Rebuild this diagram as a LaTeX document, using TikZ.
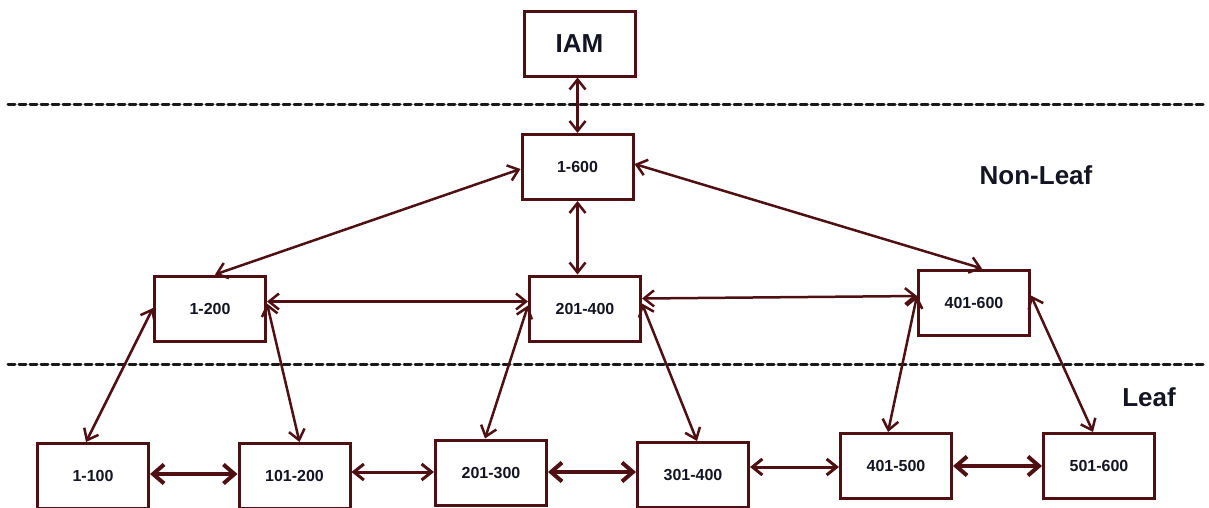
\documentclass[tikz,border=0pt]{standalone}
\usepackage{fontspec}
\setmainfont{Liberation Sans}
\usetikzlibrary{arrows.meta}
\definecolor{mar}{RGB}{78,16,18}
\definecolor{txt}{RGB}{20,20,35}
\begin{document}
\begin{tikzpicture}[x=1pt,y=-1pt,
  box/.style={draw=mar,line width=3pt,fill=white,minimum width=111pt,minimum height=65pt,inner sep=0pt,
    text=txt,font=\fontsize{16}{18}\selectfont\bfseries},
  big/.style={text=txt,font=\fontsize{26}{30}\selectfont\bfseries,inner sep=0pt},
  link/.style={draw=mar,line width=2.5pt,{Straight Barb[length=10pt,width=16pt]}-{Straight Barb[length=10pt,width=16pt]}},
  thick link/.style={draw=mar,line width=4pt,{Straight Barb[length=11pt,width=19pt]}-{Straight Barb[length=11pt,width=19pt]}},
  mid link/.style={draw=mar,line width=3pt,{Straight Barb[length=10pt,width=16pt]}-{Straight Barb[length=10pt,width=16pt]}},
  level/.style={draw=black!90,line width=3pt,dash pattern=on 7pt off 4pt,line cap=round}]
\useasboundingbox (0,0) rectangle (1209,507);
% level separators
\coordinate (d1a) at (8,104);
\coordinate (d1b) at (1206,104);
\coordinate (d2a) at (8,364);
\coordinate (d2b) at (1206,364);
\draw[level] (d1a) -- (d1b);
\draw[level] (d2a) -- (d2b);
% nodes
\node[box,font=\fontsize{26}{30}\selectfont\bfseries] (iam) at (579.5,43.5) {IAM};
\node[box] (n1600) at (577.5,167) {1-600};
\node[box] (n1200) at (210,308.5) {1-200};
\node[box] (n201400) at (585,308.5) {201-400};
\node[box] (n401600) at (974,302.5) {401-600};
\node[box] (n1100) at (93,476) {1-100};
\node[box] (n101200) at (294.5,476) {101-200};
\node[box] (n201300) at (491,472.5) {201-300};
\node[box] (n301400) at (693,475) {301-400};
\node[box] (n401500) at (896,466) {401-500};
\node[box] (n501600) at (1099,466) {501-600};
% labels
\node[big] (nonleaf) at (1036,175) {Non-Leaf};
\node[big] (leaf) at (1149,397) {Leaf};
% non-leaf connectors
\draw[link] (n1600.north) -- (n1600.north |- iam.south);
\draw[link] ([yshift=-2pt]n1600.west) -- ([xshift=5pt]n1200.north);
\draw[link] ([yshift=3pt]n1600.east) -- ([xshift=8pt]n401600.north);
\draw[link] (n1600.south) -- (n1600.south |- n201400.north);
\draw[link] ([yshift=7pt]n1200.east) -- ([yshift=7pt]n201400.west);
\draw[link] ([yshift=10pt]n201400.east) -- ([yshift=6.5pt]n401600.west);
% non-leaf to leaf
\draw[link] ([yshift=0.5pt]n1200.west) -- ([xshift=-7pt]n1100.north);
\draw[link] ([yshift=5pt]n1200.east) -- ([xshift=5pt]n101200.north);
\draw[link] ([yshift=3pt]n201400.west) -- ([xshift=-6pt]n201300.north);
\draw[link] ([yshift=5pt]n201400.east) -- ([xshift=4pt]n301400.north);
\draw[link] ([yshift=7pt]n401600.west) -- ([xshift=-8pt]n401500.north);
\draw[link] ([yshift=7pt]n401600.east) -- ([xshift=-6pt]n501600.north);
% leaf row
\draw[thick link] ([yshift=2pt]n1100.east) -- ([yshift=2pt]n101200.west);
\draw[mid link] ([yshift=4pt]n101200.east) -- ([yshift=0.5pt]n201300.west);
\draw[thick link] ([yshift=0.5pt]n201300.east) -- ([yshift=3pt]n301400.west);
\draw[mid link] ([yshift=8pt]n301400.east) -- ([yshift=-1pt]n401500.west);
\draw[thick link] (n401500.east) -- (n501600.west);
\end{tikzpicture}
\end{document}
